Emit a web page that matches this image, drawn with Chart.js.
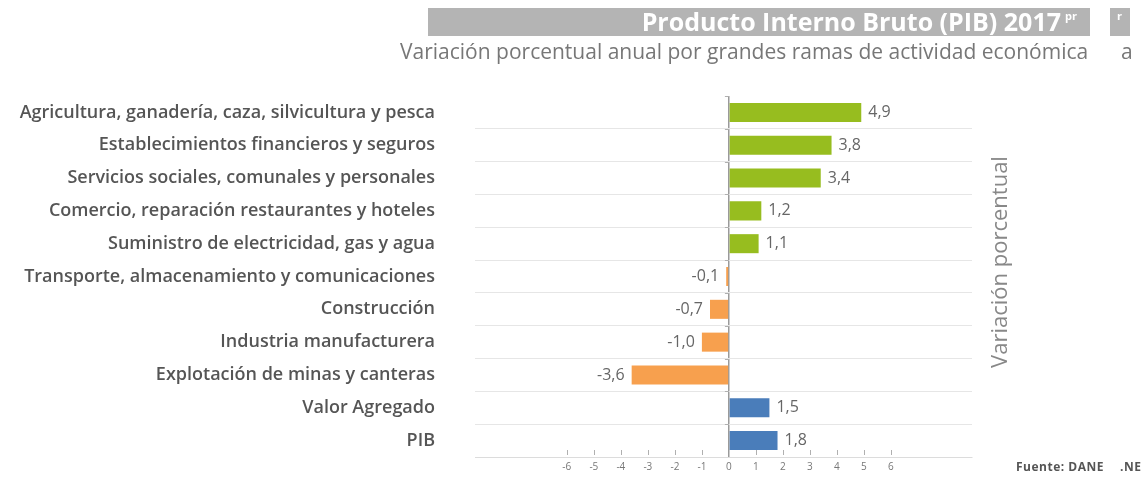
<!DOCTYPE html>
<html>
<head>
<meta charset="utf-8">
<script src="https://cdn.jsdelivr.net/npm/chart.js@4/dist/chart.umd.min.js"></script>
<style>
  body { margin: 0; background: #fff; font-family: "Open Sans", sans-serif; }
  #wrap { position: relative; width: 1145px; height: 478px; overflow: hidden; }
  #lienzo { position: absolute; left: 0; top: 0; width: 1145px; height: 478px; }
  .caja { position: absolute; background: #b4b4b4; }
  .txt { position: absolute; white-space: nowrap; line-height: 1; }
</style>
</head>
<body>
<div id="wrap">
  <div id="lienzo"><canvas id="grafico"></canvas></div>
  <div class="caja" style="left:428px;top:8px;width:662px;height:28px;"></div>
  <div class="txt" style="right:84px;top:9px;font-size:25px;font-weight:700;color:#fff;">Producto Interno Bruto (PIB) 2017</div>
  <div class="txt" style="left:1065px;top:10px;font-size:11px;font-weight:700;color:#fff;">pr</div>
  <div class="caja" style="left:1110px;top:8px;width:20px;height:28px;"></div>
  <div class="txt" style="left:1117px;top:10px;font-size:11px;font-weight:700;color:#fff;">r</div>
  <div class="txt" style="left:400px;top:41px;font-size:21px;color:#777;">Variación porcentual anual por grandes ramas de actividad económica</div>
  <div class="txt" style="left:1121px;top:41px;font-size:21px;color:#777;">a</div>
  <div class="txt" style="left:1016px;top:461px;font-size:12px;font-weight:700;letter-spacing:0.5px;color:#555;">Fuente: DANE</div>
  <div class="txt" style="left:1120px;top:461px;font-size:12px;font-weight:700;letter-spacing:0.5px;color:#555;">.NE</div>
</div>
<script>
// ramas de actividad (de arriba hacia abajo)
const ramas = [
  "Agricultura, ganadería, caza, silvicultura y pesca",
  "Establecimientos financieros y seguros",
  "Servicios sociales, comunales y personales",
  "Comercio, reparación restaurantes y hoteles",
  "Suministro de electricidad, gas y agua",
  "Transporte, almacenamiento y comunicaciones",
  "Construcción",
  "Industria manufacturera",
  "Explotación de minas y canteras",
  "Valor Agregado",
  "PIB"
];
const variacion = [4.9, 3.8, 3.4, 1.2, 1.1, -0.1, -0.7, -1.0, -3.6, 1.5, 1.8];
const tipo = ["rama", "rama", "rama", "rama", "rama", "rama", "rama", "rama", "rama", "total", "total"];
const ticksX = [-6, -5, -4, -3, -2, -1, 0, 1, 2, 3, 4, 5, 6];

const colores = variacion.map((v, i) => {
  if (tipo[i] === "total") return "#4a7dba";
  return v >= 0 ? "#97bd1f" : "#f7a04e";
});

function formatoComa(v) {
  return v.toFixed(1).replace(".", ",");
}

// etiquetas, marcas y titulo del eje
const extras = {
  id: "extras",
  afterDatasetsDraw(chart) {
    const ctx = chart.ctx;
    const x = chart.scales.x;
    const y = chart.scales.y;
    const area = chart.chartArea;
    ctx.save();

    // marcas del eje x (hacia arriba)
    ctx.strokeStyle = "#b0b0b0";
    ctx.lineWidth = 1;
    ticksX.forEach((t) => {
      if (t === 0) return;
      const px = Math.round(x.getPixelForValue(t)) + 0.5;
      ctx.beginPath();
      ctx.moveTo(px, area.bottom - 7);
      ctx.lineTo(px, area.bottom - 2);
      ctx.stroke();
    });

    // marcas sobre la linea del cero
    const x0 = x.getPixelForValue(0);
    const paso = y.getPixelForValue(1) - y.getPixelForValue(0);
    for (let i = 0; i < ramas.length; i++) {
      const py = Math.round(y.getPixelForValue(i) - paso / 2) + 0.5;
      ctx.beginPath();
      ctx.moveTo(x0 - 4, py);
      ctx.lineTo(x0, py);
      ctx.stroke();
    }

    // valores
    ctx.font = "16px 'Open Sans'";
    ctx.fillStyle = "#666";
    ctx.textBaseline = "middle";
    chart.getDatasetMeta(0).data.forEach((bar, i) => {
      const v = variacion[i];
      if (v >= 0) {
        ctx.textAlign = "left";
        ctx.fillText(formatoComa(v), bar.x + 7, bar.y);
      } else {
        ctx.textAlign = "right";
        ctx.fillText(formatoComa(v), bar.x - 7, bar.y);
      }
    });

    // titulo vertical
    ctx.translate(1001, 262);
    ctx.rotate(-Math.PI / 2);
    ctx.textAlign = "center";
    ctx.font = "22px 'Open Sans'";
    ctx.fillStyle = "#888";
    ctx.fillText("Variación porcentual", 0, 0);
    ctx.restore();
  }
};

new Chart(document.getElementById("grafico"), {
  type: "bar",
  data: {
    labels: ramas,
    datasets: [{
      data: variacion,
      backgroundColor: colores,
      categoryPercentage: 1,
      barPercentage: 0.58
    }]
  },
  options: {
    indexAxis: "y",
    responsive: true,
    maintainAspectRatio: false,
    animation: false,
    layout: { padding: { top: 96, bottom: 1, right: 173, left: 0 } },
    plugins: { legend: { display: false }, tooltip: { enabled: false } },
    scales: {
      x: {
        min: -9.4,
        max: 9.0,
        afterBuildTicks(scale) {
          scale.ticks = ticksX.map((v) => ({ value: v }));
        },
        afterFit(scale) {
          scale.height = 20;
          scale.paddingLeft = 0;
          scale.paddingRight = 0;
        },
        grid: {
          drawTicks: false,
          color: (c) => (c.tick && c.tick.value === 0 ? "#9a9a9a" : "transparent"),
          lineWidth: 1.5
        },
        border: { color: "#dcdcdc", width: 1 },
        ticks: {
          padding: 4,
          color: "#777",
          font: { family: "Open Sans", size: 10 },
          callback: (v) => String(v)
        }
      },
      y: {
        afterFit(scale) {
          scale.width = 475;
          scale.paddingTop = 0;
          scale.paddingBottom = 0;
        },
        grid: {
          drawTicks: false,
          color: (c) => (c.index === 0 ? "transparent" : "#e6e6e6")
        },
        border: { display: false },
        ticks: {
          padding: 40,
          color: "#555",
          font: { family: "Open Sans", size: 18, weight: 600 }
        }
      }
    }
  },
  plugins: [extras]
});
</script>
</body>
</html>
